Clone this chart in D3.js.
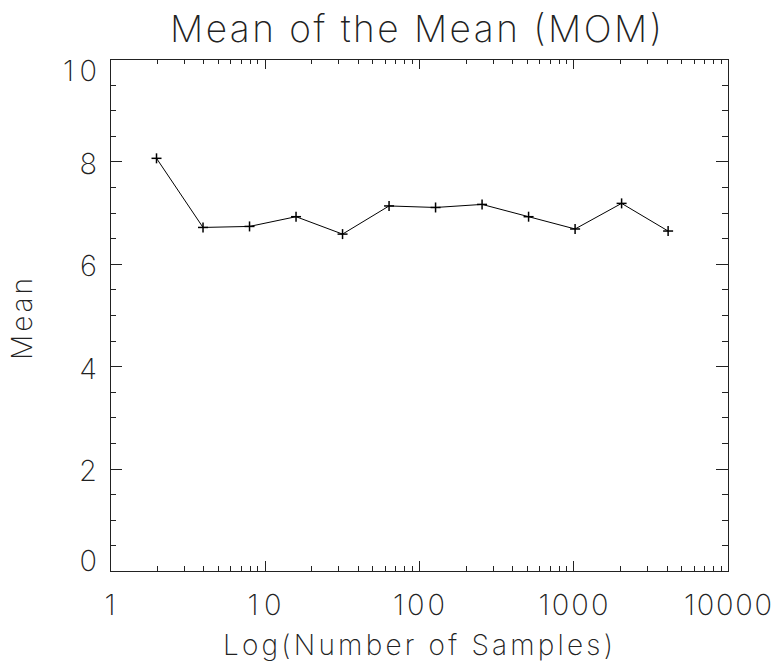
<!DOCTYPE html>
<html>
<head>
<meta charset="utf-8">
<script src="https://cdn.jsdelivr.net/npm/d3@7"></script>
<style>
  body { margin: 0; background: #fff; }
  svg text { font-family: "Inter", "DejaVu Sans", sans-serif; font-weight: 200; fill: #222; }
</style>
</head>
<body>
<div id="chart"></div>
<script>
// samples (x) and mean values (y)
const samples = [2, 4, 8, 16, 32, 64, 128, 256, 512, 1024, 2048, 4096];
const means = [8.06, 6.71, 6.73, 6.92, 6.58, 7.13, 7.10, 7.16, 6.92, 6.68, 7.18, 6.64];
const xTickValues = [1, 10, 100, 1000, 10000];
const xTickLabels = ["1", "10", "100", "1000", "10000"];
const yTickValues = [0, 2, 4, 6, 8, 10];
const yTickLabels = ["0", "2", "4", "6", "8", "10"];

const width = 778, height = 661;
const plotLeft = 110, plotRight = 728, plotTop = 59, plotBottom = 571;

const svg = d3.select("#chart").append("svg")
    .attr("width", width)
    .attr("height", height);

const x = d3.scaleLog().domain([1, 10000]).range([plotLeft, plotRight]);
const y = d3.scaleLinear().domain([0, 10]).range([plotBottom, plotTop]);

// frame
svg.append("rect")
    .attr("x", plotLeft + 0.5).attr("y", plotTop + 0.5)
    .attr("width", plotRight - plotLeft).attr("height", plotBottom - plotTop)
    .attr("fill", "none").attr("stroke", "#222").attr("stroke-width", 1);

// x ticks: decades long, 2..9 short, on bottom and top
let xMinor = [];
for (let d = 1; d < 10000; d *= 10) {
    for (let k = 2; k <= 9; k++) xMinor.push(d * k);
}
const tickG = svg.append("g").attr("stroke", "#222").attr("stroke-width", 1);
function xTick(v, len) {
    const px = Math.round(x(v)) + 0.5;
    tickG.append("line").attr("x1", px).attr("x2", px).attr("y1", plotBottom).attr("y2", plotBottom - len);
    tickG.append("line").attr("x1", px).attr("x2", px).attr("y1", plotTop).attr("y2", plotTop + len);
}
xTickValues.forEach(v => xTick(v, 10));
xMinor.forEach(v => xTick(v, 5));

// y ticks: every 2 long, every 0.5 short, on left and right
function yTick(v, len) {
    const py = Math.round(y(v)) + 0.5;
    tickG.append("line").attr("x1", plotLeft).attr("x2", plotLeft + len).attr("y1", py).attr("y2", py);
    tickG.append("line").attr("x1", plotRight).attr("x2", plotRight - len).attr("y1", py).attr("y2", py);
}
d3.range(0, 10.01, 0.5).forEach(v => {
    if (v % 2 === 0) yTick(v, 12); else yTick(v, 6);
});

// tick labels
svg.selectAll(".xlab")
    .data(xTickValues)
    .enter().append("text")
    .attr("class", "xlab")
    .attr("x", d => x(d))
    .attr("y", 615)
    .attr("text-anchor", "middle")
    .style("font-size", "29px")
    .attr("textLength", (d, i) => xTickLabels[i].length * 18 - 2)
    .text((d, i) => xTickLabels[i]);

svg.selectAll(".ylab")
    .data(yTickValues)
    .enter().append("text")
    .attr("class", "ylab")
    .attr("x", 97)
    .attr("y", d => {
        if (d === 10) return y(d) + 22;   // top label kept inside the frame
        if (d === 0) return y(d);          // bottom label sits on the axis
        return y(d) + 12.5;
    })
    .attr("text-anchor", "end")
    .style("font-size", "29px")
    .attr("textLength", (d, i) => yTickLabels[i].length * 18 - 2)
    .text((d, i) => yTickLabels[i]);

// titles
svg.append("text")
    .attr("x", 416).attr("y", 42)
    .attr("text-anchor", "middle")
    .style("font-size", "37px")
    .attr("textLength", 492)
    .text("Mean of the Mean (MOM)");

svg.append("text")
    .attr("x", 418).attr("y", 655)
    .attr("text-anchor", "middle")
    .style("font-size", "28px")
    .attr("textLength", 390)
    .text("Log(Number of Samples)");

svg.append("text")
    .attr("transform", "translate(32,319) rotate(-90)")
    .attr("text-anchor", "middle")
    .style("font-size", "28px")
    .attr("textLength", 82)
    .text("Mean");

// data line
const line = d3.line()
    .x((d, i) => x(samples[i]))
    .y(d => y(d));

svg.append("path")
    .datum(means)
    .attr("d", line)
    .attr("fill", "none")
    .attr("stroke", "#000")
    .attr("stroke-width", 1);

// plus markers
const pts = svg.selectAll(".pt")
    .data(means)
    .enter().append("g")
    .attr("class", "pt")
    .attr("transform", (d, i) => `translate(${x(samples[i])},${y(d)})`);
pts.append("line").attr("x1", -5).attr("x2", 5).attr("y1", 0).attr("y2", 0)
    .attr("stroke", "#000").attr("stroke-width", 1.5);
pts.append("line").attr("x1", 0).attr("x2", 0).attr("y1", -5).attr("y2", 5)
    .attr("stroke", "#000").attr("stroke-width", 1.5);
</script>
</body>
</html>
